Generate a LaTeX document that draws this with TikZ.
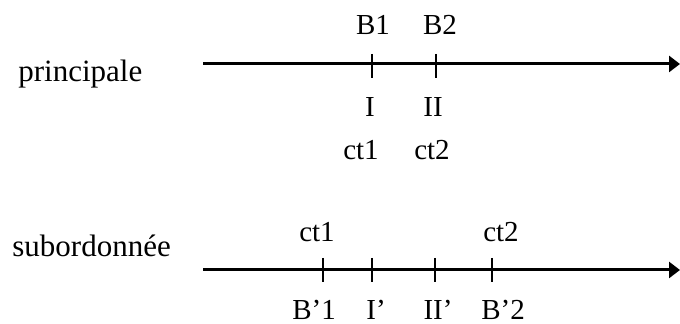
\documentclass[tikz,border=0pt]{standalone}
\usepackage{fontspec}
\setmainfont{Liberation Serif}
\usepackage{tikz}
\usetikzlibrary{arrows.meta,positioning}
\tikzset{
  tlAxis/.style={
    -{Triangle[length=5.5pt,width=8pt]},
    line width=1.5pt,
    draw=black
  },
  tlTick/.style={
    line width=0.9pt,
    draw=black
  },
  tlLabel/.style={
    anchor=base,
    inner sep=0pt,
    font=\fontsize{14.5}{17}\selectfont
  },
  tlRow/.style={
    anchor=base west,
    inner sep=0pt,
    font=\fontsize{15.5}{18}\selectfont
  }
}

\begin{document}
\begin{tikzpicture}[x=0.5pt, y=0.5pt]
  \useasboundingbox (0,0) rectangle (680,324);

  % principale
  \node[tlRow] (rowMain) at (18,242) {principale};
  \coordinate (mainStart) at (203,260);
  \coordinate (mainEnd) at (680,260);
  \draw[tlAxis] (mainStart) -- (mainEnd);
  \foreach \name/\x in {mB1/372, mB2/436} {
    \coordinate (\name) at (\x,260);
    \draw[tlTick] ([yshift=5pt]\name) -- ([yshift=-7pt]\name);
  }
  \node[tlLabel] (lblB1) at (373,289) {B1};
  \node[tlLabel] (lblB2) at (440,289) {B2};
  \node[tlLabel] (lblI) at (370,207) {I};
  \node[tlLabel] (lblII) at (433,207) {II};
  \node[tlLabel] (lblCtA) at (361,164) {ct1};
  \node[tlLabel] (lblCtB) at (432,164) {ct2};

  % subordonnee
  \node[tlRow] (rowSub) at (12,67) {subordonnée};
  \coordinate (subStart) at (203,54);
  \coordinate (subEnd) at (680,54);
  \draw[tlAxis] (subStart) -- (subEnd);
  \foreach \name/\x in {sB1/323, sI/372, sII/435, sB2/492} {
    \coordinate (\name) at (\x,54);
    \draw[tlTick] ([yshift=6pt]\name) -- ([yshift=-6pt]\name);
  }
  \node[tlLabel] (lblSubCtA) at (317,82) {ct1};
  \node[tlLabel] (lblSubCtB) at (501,82) {ct2};
  \node[tlLabel] (lblSubB1) at (314,4) {B’1};
  \node[tlLabel] (lblSubI) at (376,4) {I’};
  \node[tlLabel] (lblSubII) at (438,4) {II’};
  \node[tlLabel] (lblSubB2) at (503,4) {B’2};
\end{tikzpicture}
\end{document}
